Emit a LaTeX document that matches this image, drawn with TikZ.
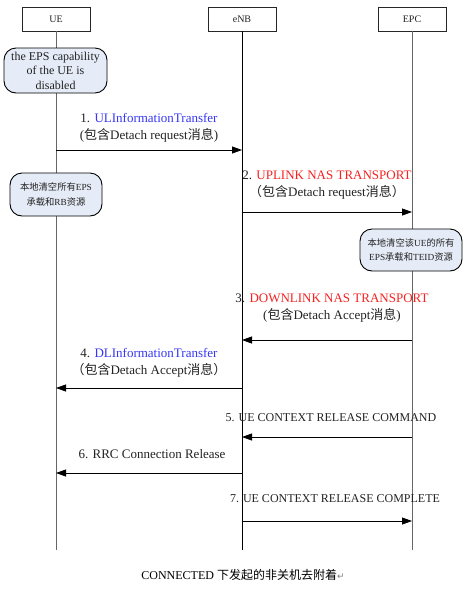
\documentclass[tikz,border=0pt]{standalone}
\usepackage{fontspec}
\setmainfont{Liberation Serif}
\newfontfamily\cjk{Noto Sans CJK SC}
\newfontfamily\djv{DejaVu Sans}
\usetikzlibrary{arrows.meta,positioning}
\definecolor{boxfill}{HTML}{E6ECF7}
\definecolor{msgblue}{HTML}{3535F5}
\definecolor{msgred}{HTML}{F52222}
\definecolor{txt}{HTML}{222222}
\definecolor{life}{HTML}{666666}
\begin{document}
\begin{tikzpicture}[x=1pt,y=-1pt,
  entity/.style={draw=black!85,line width=0.8pt,minimum width=68pt,minimum height=24pt,inner sep=0pt,font=\fontsize{10}{12}\selectfont,text=txt},
  lifeline/.style={line width=0.9pt},
  note/.style={draw=black,line width=0.9pt,fill=boxfill,rounded corners=12pt,inner sep=0pt,align=center,text=txt},
  msg/.style={line width=0.8pt,-{Triangle[length=10pt,width=7pt]}},
  lbl/.style={align=center,text=txt,inner sep=0pt,font=\fontsize{13}{17}\selectfont},
  cmd/.style={align=center,text=txt,inner sep=0pt,font=\fontsize{12}{14}\selectfont},
  smallc/.style={font=\fontsize{9.3}{14.5}\selectfont}
]
\useasboundingbox (0,0) rectangle (467,590);
% entities
\node[entity] (ue)  at (56,19)  {UE};
\node[entity] (enb) at (242,19) {eNB};
\node[entity] (epc) at (412,19) {EPC};
\coordinate (bottom) at (0,550);
% lifelines
\draw[lifeline,draw=life] (ue.south) -- (ue.south|-bottom);
\draw[lifeline,draw=black] (enb.south) -- (enb.south|-bottom);
\draw[lifeline,draw=life] (epc.south) -- (epc.south|-bottom);
% notes
\node[note,minimum width=103pt,minimum height=45pt,font=\fontsize{12}{14.5}\selectfont] (n1) at (55.5,70.5)
  {the EPS capability\\of the UE is\\disabled};
\node[note,minimum width=92pt,minimum height=43pt,smallc] (n2) at (56,194.5)
  {{\cjk 本地清空所有}EPS\\{\cjk 承载和}RB{\cjk 资源}};
\node[note,minimum width=102pt,minimum height=42pt,smallc] (n3) at (411,250)
  {{\cjk 本地清空该}UE{\cjk 的所有}\\EPS{\cjk 承载和}TEID{\cjk 资源}};
% arrow endpoints
\coordinate (a1s) at (ue.south|-0,150);  \coordinate (a1e) at (enb.south|-0,150);
\coordinate (a2s) at (enb.south|-0,212); \coordinate (a2e) at (epc.south|-0,212);
\coordinate (a3s) at (epc.south|-0,340); \coordinate (a3e) at (enb.south|-0,340);
\coordinate (a4s) at (enb.south|-0,388); \coordinate (a4e) at (ue.south|-0,388);
\coordinate (a5s) at (epc.south|-0,437); \coordinate (a5e) at (enb.south|-0,437);
\coordinate (a6s) at (enb.south|-0,473); \coordinate (a6e) at (ue.south|-0,473);
\coordinate (a7s) at (enb.south|-0,521); \coordinate (a7e) at (epc.south|-0,521);
\draw[msg] (a1s) -- (a1e);
\draw[msg] (a2s) -- (a2e);
\draw[msg] (a3s) -- (a3e);
\draw[msg] (a4s) -- (a4e);
\draw[msg] (a5s) -- (a5e);
\draw[msg] (a6s) -- (a6e);
\draw[msg] (a7s) -- (a7e);
% labels
\node[lbl] (l1) at (149,127.5) {1. \textcolor{msgblue}{ULInformationTransfer}\\({\cjk 包含}Detach request{\cjk 消息})};
\node[lbl] (l2) at (327,185) {2. \textcolor{msgred}{UPLINK NAS TRANSPORT}\\{\cjk （包含}Detach request{\cjk 消息）}};
\node[lbl] (l3) at (332,308.5) {3. \textcolor{msgred}{DOWNLINK NAS TRANSPORT}\\({\cjk 包含}Detach Accept{\cjk 消息})};
\node[lbl] (l4) at (149,362.5) {4. \textcolor{msgblue}{DLInformationTransfer}\\{\cjk （包含}Detach Accept{\cjk 消息）}};
\node[cmd] (l5) at (331,418) {5. UE CONTEXT RELEASE COMMAND};
\node[lbl] (l6) at (152,454) {6. RRC Connection Release};
\node[cmd] (l7) at (335,499) {7. UE CONTEXT RELEASE COMPLETE};
% caption
\node[text=black,inner sep=0pt,font=\fontsize{12}{14}\selectfont] (cap) at (243,575)
  {CONNECTED {\cjk 下发起的非关机去附着}{\djv\fontsize{9}{10}\selectfont\color{gray}↵}};
\end{tikzpicture}
\end{document}
